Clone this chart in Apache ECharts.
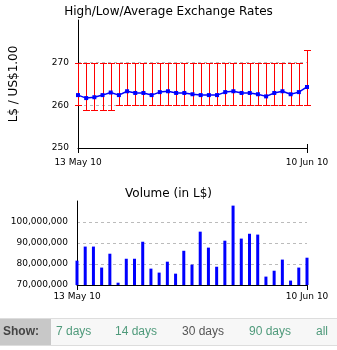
<!DOCTYPE html>
<html>
<head>
<meta charset="utf-8">
<script src="https://cdn.jsdelivr.net/npm/echarts@6/dist/echarts.min.js"></script>
<style>
html,body{margin:0;padding:0;background:#fff;}
#c{width:337px;height:350px;}
</style>
</head>
<body>
<div id="c"></div>
<script>
const categories = ['13 May 10','14 May 10','15 May 10','16 May 10','17 May 10','18 May 10','19 May 10','20 May 10','21 May 10','22 May 10','23 May 10','24 May 10','25 May 10','26 May 10','27 May 10','28 May 10','29 May 10','30 May 10','31 May 10','1 Jun 10','2 Jun 10','3 Jun 10','4 Jun 10','5 Jun 10','6 Jun 10','7 Jun 10','8 Jun 10','9 Jun 10','10 Jun 10'];
const highs = [270,270,270,270,270,270,270,270,270,270,270,270,270,270,270,270,270,270,270,270,270,270,270,270,270,270,270,270,273];
const lows = [260,259,259,259,259,260,260,260,260,260,260,260,260,260,260,260,260,260,260,260,260,260,260,260,260,260,260,260,260];
const averages = [262.4,261.7,261.9,262.4,263.0,262.4,263.3,262.9,262.9,262.4,263.1,263.3,262.9,262.9,262.6,262.4,262.4,262.4,263.1,263.3,262.9,262.9,262.6,262.1,262.9,263.3,262.6,263.1,264.3];
const volumes = [81600000,88300000,88300000,78300000,84900000,71100000,82500000,82500000,90600000,77800000,75900000,81100000,75400000,86300000,79700000,95400000,87800000,78700000,91100000,107800000,92100000,94400000,94000000,74000000,76800000,82100000,72100000,78300000,83000000];
const rateTicks = [250,260,270,280];
const volumeTicks = [70000000,80000000,90000000,100000000,110000000];
const showLinks = ['7 days','14 days','30 days','90 days','all'];
const titles = ['High/Low/Average Exchange Rates','Volume (in L$)'];
const yName = 'L$ / US$1.00';

const FONT = 'DejaVu Sans';
const last = categories.length - 1;
const endsOnly = (i) => i === 0 || i === last;

const chart = echarts.init(document.getElementById('c'), null, {renderer:'canvas'});

const errorData = categories.map((c,i)=>[i, lows[i], highs[i]]);

const linkX = [56, 115, 182, 249, 316];
const linkColor = ['#4f9a7b','#4f9a7b','#555555','#4f9a7b','#4f9a7b'];

function makeX(gridIndex, margin){
  return {
    type:'category', data:categories, boundaryGap:false, gridIndex:gridIndex,
    axisLine:{show:true, lineStyle:{color:'#000', width:1}},
    axisTick:{show:true, inside:false, length:5, interval:(i)=>endsOnly(i), lineStyle:{color:'#000'}},
    axisLabel:{show:true, interval:(i)=>endsOnly(i), fontFamily:FONT, fontSize:9, color:'#000', margin:margin},
    splitLine:{show:false}
  };
}

const option = {
  animation:false,
  backgroundColor:'#fff',
  title:[
    {text:titles[0], left:'center', top:1, textStyle:{fontFamily:FONT, fontSize:12, fontWeight:'normal', color:'#000'}},
    {text:titles[1], left:'center', top:183, textStyle:{fontFamily:FONT, fontSize:12, fontWeight:'normal', color:'#000'}}
  ],
  grid:[
    {left:77, right:30, top:20, height:128, containLabel:false},
    {left:77, right:30, top:201, height:84, containLabel:false}
  ],
  xAxis:[
    makeX(0, 10),
    makeX(1, 7),
    {type:'category', data:categories, boundaryGap:false, gridIndex:0, position:'bottom',
     axisLine:{show:false}, axisLabel:{show:false}, splitLine:{show:false},
     axisTick:{show:true, inside:true, length:4, interval:(i)=>i===last, lineStyle:{color:'#000'}}}
  ],
  yAxis:[
    {type:'value', gridIndex:0, min:rateTicks[0], max:rateTicks[rateTicks.length-1], interval:10,
     name:yName, nameLocation:'middle', nameRotate:90, nameGap:58,
     nameTextStyle:{fontFamily:FONT, fontSize:12, color:'#000'},
     axisLine:{show:true, lineStyle:{color:'#000', width:1}},
     axisTick:{show:false},
     axisLabel:{fontFamily:FONT, fontSize:9, color:'#000', margin:9, showMaxLabel:false},
     splitLine:{show:true, showMinLine:false, showMaxLine:false, lineStyle:{color:'#bbbbbb', type:[3,3], width:1}}
    },
    {type:'value', gridIndex:1, min:volumeTicks[0], max:volumeTicks[volumeTicks.length-1], interval:10000000,
     axisLine:{show:true, lineStyle:{color:'#000', width:1}},
     axisTick:{show:false},
     axisLabel:{fontFamily:FONT, fontSize:9, color:'#000', margin:9, showMaxLabel:false,
       formatter:(v)=>Number(v).toLocaleString('en-US')},
     splitLine:{show:true, showMinLine:false, showMaxLine:false, lineStyle:{color:'#bbbbbb', type:[3,3], width:1}}
    }
  ],
  series:[
    {type:'custom', xAxisIndex:0, yAxisIndex:0, data:errorData, z:2,
     renderItem:(params, api)=>{
       const i = api.value(0);
       const lo = api.coord([i, api.value(1)]);
       const hi = api.coord([i, api.value(2)]);
       const w = 3.5;
       const x = Math.round(lo[0]) + 0.5;
       const ylo = Math.round(lo[1]) + 0.5, yhi = Math.round(hi[1]) + 0.5;
       const st = {stroke:'#ff0000', lineWidth:1};
       return {type:'group', children:[
         {type:'line', shape:{x1:x, y1:yhi, x2:x, y2:ylo}, style:st},
         {type:'line', shape:{x1:x-w, y1:yhi, x2:x+w, y2:yhi}, style:st},
         {type:'line', shape:{x1:x-w, y1:ylo, x2:x+w, y2:ylo}, style:st}
       ]};
     }
    },
    {type:'line', xAxisIndex:0, yAxisIndex:0, data:averages, z:3,
     symbol:'rect', symbolSize:[4,4], showSymbol:true,
     itemStyle:{color:'#0000ff'}, lineStyle:{color:'#0000ff', width:1.5}},
    {type:'bar', xAxisIndex:1, yAxisIndex:1, data:volumes, barWidth:3,
     itemStyle:{color:'#0000ff'}}
  ],
  graphic:[
    {type:'rect', left:0, top:318, shape:{width:337, height:27}, style:{fill:'#f7f7f7'}},
    {type:'rect', left:0, top:318, shape:{width:51, height:27}, style:{fill:'#c8c8c8'}},
    {type:'rect', left:0, top:318, shape:{width:337, height:1}, style:{fill:'#dddddd'}},
    {type:'rect', left:0, top:345, shape:{width:337, height:1}, style:{fill:'#dddddd'}},
    {type:'text', x:3, y:332, style:{text:'Show:', fontFamily:'Liberation Sans', fontSize:12, fontWeight:'bold', fill:'#444', verticalAlign:'middle'}}
  ].concat(showLinks.map((t,i)=>({type:'text', x:linkX[i], y:332,
     style:{text:t, fontFamily:'Liberation Sans', fontSize:12, fill:linkColor[i], verticalAlign:'middle'}})))
};
chart.setOption(option);
</script>
</body>
</html>
